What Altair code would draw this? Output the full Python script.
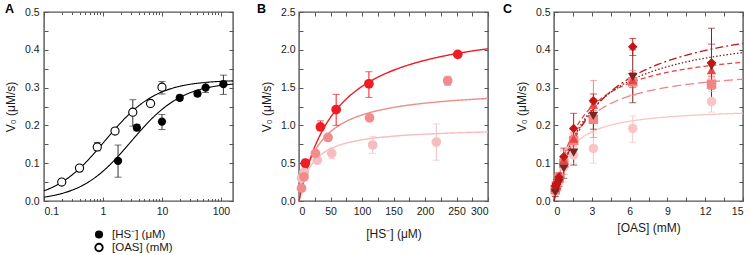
import altair as alt
import numpy as np
import pandas as pd

FONT = "Liberation Sans"
FRAME = "#555555"
INK = "#1a1a1a"
W, H = 189, 189

# ---------------- Panel A: V0 vs substrate concentration (log axis) ----------------
hs_conc = [1.8, 3.75, 10, 20, 40, 55, 110]
hs_rate = [0.106, 0.194, 0.210, 0.273, 0.284, 0.300, 0.309]
hs_lo = [0.063, 0.186, 0.189, 0.266, 0.277, 0.287, 0.282]
hs_hi = [0.148, 0.202, 0.229, 0.280, 0.291, 0.313, 0.333]

oas_conc = [0.2, 0.4, 0.8, 1.6, 3.2, 6.4, 10]
oas_rate = [0.050, 0.087, 0.143, 0.185, 0.235, 0.258, 0.301]
oas_lo = [0.046, 0.082, 0.133, 0.180, 0.198, 0.252, 0.283]
oas_hi = [0.054, 0.092, 0.155, 0.190, 0.268, 0.264, 0.316]

# Michaelis-Menten fit parameters (Vmax, Km)
a_fit = {"HS": (0.315, 3.0), "OAS": (0.320, 1.09)}

# ---------------- Panel B: V0 vs [HS-] at three OAS levels ----------------
b_series = ["lo", "mid", "hi"]
b_colors = ["#f6bdc0", "#f28b8b", "#ee1d23"]
b_x = {"lo": [4, 8, 29, 52, 117, 218],
       "mid": [4, 8, 26, 46, 112, 236],
       "hi": [10, 34, 59, 111, 252]}
b_v = {"lo": [0.30, 0.38, 0.54, 0.63, 0.74, 0.78],
       "mid": [0.17, 0.32, 0.63, 0.84, 1.10, 1.59],
       "hi": [0.50, 0.98, 1.21, 1.55, 1.94]}
b_lo = {"lo": [0.27, 0.35, 0.49, 0.56, 0.63, 0.54],
        "mid": [0.14, 0.29, 0.60, 0.81, 1.07, 1.53],
        "hi": [0.45, 0.93, 1.00, 1.37, 1.91]}
b_hi = {"lo": [0.33, 0.41, 0.59, 0.70, 0.85, 1.02],
        "mid": [0.20, 0.35, 0.66, 0.87, 1.13, 1.65],
        "hi": [0.55, 1.06, 1.41, 1.71, 1.97]}
b_fit = {"lo": (0.975, 20.5), "mid": (1.50, 31.8), "hi": (2.41, 59.0)}

# ---------------- Panel C: V0 vs [OAS] at five HS- levels ----------------
c_series = ["s1", "s2", "s3", "s4", "s5"]
c_colors = ["#f8bcbc", "#f38686", "#e8353a", "#6e0b0b", "#c80d0d"]
c_curve_colors = ["#fbc4c4", "#f08585", "#e84545", "#7a2525", "#c41515"]
c_shapes = ["circle", "square", "triangle-up", "triangle-down", "diamond"]
c_dashes = [[1, 0], [9, 4], [5, 3], [1.5, 2], [8, 3, 2, 3]]
c_x = [0.1, 0.2, 0.39, 0.78, 1.56, 3.125, 6.25, 12.5]
c_v = {"s1": [0.025, 0.032, 0.050, 0.090, 0.122, 0.139, 0.192, 0.263],
       "s2": [0.030, 0.040, 0.060, 0.100, 0.160, 0.216, 0.315, 0.309],
       "s3": [0.035, 0.042, 0.065, 0.108, 0.165, 0.255, 0.320, 0.346],
       "s4": [0.022, 0.035, 0.048, 0.086, 0.128, 0.225, 0.328, 0.357],
       "s5": [0.040, 0.046, 0.063, 0.117, 0.192, 0.265, 0.408, 0.366]}
c_lo = {"s1": [0.015, 0.022, 0.040, 0.050, 0.100, 0.100, 0.155, 0.235],
        "s2": [0.020, 0.030, 0.050, 0.070, 0.145, 0.168, 0.280, 0.295],
        "s3": [0.025, 0.032, 0.055, 0.095, 0.150, 0.240, 0.300, 0.330],
        "s4": [0.012, 0.025, 0.038, 0.060, 0.095, 0.190, 0.260, 0.262],
        "s5": [0.030, 0.036, 0.053, 0.095, 0.170, 0.247, 0.385, 0.340]}
c_hi = {"s1": [0.035, 0.042, 0.060, 0.130, 0.140, 0.180, 0.225, 0.290],
        "s2": [0.040, 0.050, 0.070, 0.135, 0.175, 0.319, 0.345, 0.325],
        "s3": [0.045, 0.052, 0.075, 0.120, 0.180, 0.270, 0.340, 0.360],
        "s4": [0.032, 0.045, 0.058, 0.110, 0.160, 0.260, 0.400, 0.457],
        "s5": [0.050, 0.056, 0.073, 0.140, 0.232, 0.283, 0.430, 0.415]}
c_fit = {"s1": (0.249, 1.08), "s2": (0.361, 1.8), "s3": (0.416, 2.0),
         "s4": (0.466, 2.8), "s5": (0.514, 3.49)}

Y_TITLE = "V\u2080 (\u03bcM/s)"


def mm(vmax, km, xs):
    xs = np.asarray(xs, dtype=float)
    return vmax * xs / (km + xs)


def tick_axis(orient, values, size=4):
    # tick-only axis; negative length points the ticks into the plot frame
    return alt.Axis(orient=orient, values=values, labels=False, domain=False, grid=False,
                    title=None, tickSize={"expr": f"-{size}"}, tickColor=FRAME, tickWidth=1)


def label_axis(orient, values, fmt, title=None, title_pad=5, label_pad=4):
    kw = dict(orient=orient, values=values, format=fmt, ticks=False, domain=False,
              grid=False, labelFont=FONT, labelFontSize=10.5, labelColor=INK,
              labelPadding=label_pad)
    if title is None:
        kw["title"] = None
    else:
        kw.update(title=title, titleFont=FONT, titleFontSize=12, titleFontWeight="normal",
                  titleColor=INK, titlePadding=title_pad)
    return alt.Axis(**kw)


def letter(t, dx, dy=-9):
    return alt.Chart(pd.DataFrame({"t": [t]})).mark_text(
        align="left", baseline="top", font=FONT, fontSize=12.5, fontWeight="bold", color="black"
    ).encode(text="t:N", x=alt.value(dx), y=alt.value(dy))


Y05_TICKS = [0, 0.05, 0.1, 0.15, 0.2, 0.25, 0.3, 0.35, 0.4, 0.45, 0.5]
Y05_LABELS = [0, 0.1, 0.2, 0.3, 0.4, 0.5]

# ---------------- build panel A ----------------
a_pts = pd.concat([
    pd.DataFrame({"series": "HS", "x": hs_conc, "v": hs_rate, "lo": hs_lo, "hi": hs_hi}),
    pd.DataFrame({"series": "OAS", "x": oas_conc, "v": oas_rate, "lo": oas_lo, "hi": oas_hi}),
], ignore_index=True)
a_grid = np.geomspace(0.1, 160, 260)
a_curve = pd.concat([pd.DataFrame({"series": s, "x": a_grid, "v": mm(vm, km, a_grid)})
                     for s, (vm, km) in a_fit.items()], ignore_index=True)

A_MAJOR = [0.1, 1, 10, 100]
A_MINOR = [m * d for d in (0.1, 1, 10) for m in range(2, 10)]
xa = alt.Scale(type="log", domain=[0.1, 160])
ya = alt.Scale(domain=[0, 0.5])

a_lines = alt.Chart(a_curve).mark_line(color="black", strokeWidth=1.1).encode(
    x=alt.X("x:Q", scale=xa, axis=tick_axis("top", A_MAJOR)),
    y=alt.Y("v:Q", scale=ya, axis=tick_axis("right", Y05_TICKS)),
    detail="series:N")
a_err = alt.Chart(a_pts).mark_rule(color="#333333", strokeWidth=1).encode(
    x=alt.X("x:Q", scale=xa, axis=label_axis("bottom", A_MAJOR, "~g", label_pad=5)),
    y=alt.Y("lo:Q", scale=ya, axis=label_axis("left", Y05_LABELS, ".1f", Y_TITLE, 7, 5)),
    y2="hi:Q")
a_cap_lo = alt.Chart(a_pts).mark_tick(orient="horizontal", size=7, thickness=1, color="#333333").encode(
    x=alt.X("x:Q", scale=xa, axis=tick_axis("bottom", A_MAJOR)),
    y=alt.Y("lo:Q", scale=ya, axis=tick_axis("left", Y05_TICKS)))
a_cap_hi = alt.Chart(a_pts).mark_tick(orient="horizontal", size=7, thickness=1, color="#333333").encode(
    x=alt.X("x:Q", scale=xa, axis=tick_axis("top", A_MINOR, 2.5)),
    y=alt.Y("hi:Q", scale=ya, axis=None))
a_filled = alt.Chart(a_pts).transform_filter("datum.series == 'HS'").mark_point(
    shape="circle", filled=True, size=68, color="black", opacity=1).encode(
    x=alt.X("x:Q", scale=xa, axis=tick_axis("bottom", A_MINOR, 2.5)),
    y=alt.Y("v:Q", scale=ya, axis=None))
a_open = alt.Chart(a_pts).transform_filter("datum.series == 'OAS'").mark_point(
    shape="circle", filled=True, size=66, fill="white", stroke="black", strokeWidth=1.1, opacity=1).encode(
    x=alt.X("x:Q", scale=xa, axis=None),
    y=alt.Y("v:Q", scale=ya, axis=None))

leg_one = pd.DataFrame({"label": ["[HS\u207b] (\u03bcM)"]})
leg_two = pd.DataFrame({"label": ["[OAS] (mM)"]})
a_leg = alt.layer(
    alt.Chart(leg_one).mark_point(shape="circle", filled=True, size=66, color="black", opacity=1)
    .encode(x=alt.value(55), y=alt.value(222.5)),
    alt.Chart(leg_two).mark_point(shape="circle", filled=True, size=56, fill="white",
                                  stroke="black", strokeWidth=1.8, opacity=1)
    .encode(x=alt.value(55), y=alt.value(235.5)),
    alt.Chart(leg_one).mark_text(align="left", baseline="middle", font=FONT, fontSize=11.5, color=INK)
    .encode(text="label:N", x=alt.value(68), y=alt.value(222.5)),
    alt.Chart(leg_two).mark_text(align="left", baseline="middle", font=FONT, fontSize=11.5, color=INK)
    .encode(text="label:N", x=alt.value(68), y=alt.value(235.5)),
)

panel_a = alt.layer(a_lines, a_err, a_cap_lo, a_cap_hi, a_filled, a_open, a_leg, letter("A", -39)) \
    .resolve_axis(x="independent", y="independent").properties(width=W, height=H)

# ---------------- build panel B ----------------
b_pts = pd.concat([pd.DataFrame({"series": s, "x": b_x[s], "v": b_v[s], "lo": b_lo[s], "hi": b_hi[s]})
                   for s in b_series], ignore_index=True)
b_grid = np.linspace(0, 300, 301)
b_curve = pd.concat([pd.DataFrame({"series": s, "x": b_grid, "v": mm(*b_fit[s], b_grid)})
                     for s in b_series], ignore_index=True)

xb = alt.Scale(domain=[0, 300])
yb = alt.Scale(domain=[0, 2.5])
cb = alt.Color("series:N", scale=alt.Scale(domain=b_series, range=b_colors), legend=None)
B_X_TICKS = list(range(0, 301, 25))
B_X_LABELS = list(range(0, 301, 50))
B_Y_TICKS = [0, 0.25, 0.5, 0.75, 1.0, 1.25, 1.5, 1.75, 2.0, 2.25, 2.5]
B_Y_LABELS = [0, 0.5, 1.0, 1.5, 2.0, 2.5]

b_lines = alt.Chart(b_curve).mark_line(strokeWidth=1.4).encode(
    x=alt.X("x:Q", scale=xb, axis=tick_axis("top", B_X_TICKS)),
    y=alt.Y("v:Q", scale=yb, axis=tick_axis("right", B_Y_TICKS)),
    color=cb, detail="series:N")
b_err = alt.Chart(b_pts).mark_rule(strokeWidth=1).encode(
    x=alt.X("x:Q", scale=xb, axis=label_axis("bottom", B_X_LABELS, "d", "[HS\u207b] (\u03bcM)", 12, 5)),
    y=alt.Y("lo:Q", scale=yb, axis=label_axis("left", B_Y_LABELS, ".1f", Y_TITLE, 7, 4)),
    y2="hi:Q", color=cb)
b_cap_lo = alt.Chart(b_pts).mark_tick(orient="horizontal", size=7, thickness=1).encode(
    x=alt.X("x:Q", scale=xb, axis=tick_axis("bottom", B_X_TICKS)),
    y=alt.Y("lo:Q", scale=yb, axis=tick_axis("left", B_Y_TICKS)), color=cb)
b_cap_hi = alt.Chart(b_pts).mark_tick(orient="horizontal", size=7, thickness=1).encode(
    x=alt.X("x:Q", scale=xb, axis=None), y=alt.Y("hi:Q", scale=yb, axis=None), color=cb)
b_dots = alt.Chart(b_pts).mark_circle(size=95, opacity=1).encode(
    x=alt.X("x:Q", scale=xb, axis=None), y=alt.Y("v:Q", scale=yb, axis=None), color=cb)

panel_b = alt.layer(b_lines, b_err, b_cap_lo, b_cap_hi, b_dots, letter("B", -42)) \
    .resolve_axis(x="independent", y="independent").properties(width=W, height=H)

# ---------------- build panel C ----------------
c_pts = pd.concat([pd.DataFrame({"series": s, "x": c_x, "v": c_v[s], "lo": c_lo[s], "hi": c_hi[s]})
                   for s in c_series], ignore_index=True)
c_grid = np.linspace(0, 15, 301)
c_curve = pd.concat([pd.DataFrame({"series": s, "x": c_grid, "v": mm(*c_fit[s], c_grid)})
                     for s in c_series], ignore_index=True)

xc = alt.Scale(domain=[0, 15])
yc = alt.Scale(domain=[0, 0.5])
cc = alt.Color("series:N", scale=alt.Scale(domain=c_series, range=c_colors), legend=None)
cc_line = alt.Color("series:N", scale=alt.Scale(domain=c_series, range=c_curve_colors), legend=None)
C_X_TICKS = [0, 1.5, 3, 4.5, 6, 7.5, 9, 10.5, 12, 13.5, 15]
C_X_LABELS = [0, 3, 6, 9, 12, 15]

c_lines = alt.Chart(c_curve).mark_line(strokeWidth=1.3).encode(
    x=alt.X("x:Q", scale=xc, axis=tick_axis("top", C_X_TICKS)),
    y=alt.Y("v:Q", scale=yc, axis=tick_axis("right", Y05_TICKS)),
    color=cc_line,
    strokeDash=alt.StrokeDash("series:N", scale=alt.Scale(domain=c_series, range=c_dashes), legend=None),
    detail="series:N")
c_err = alt.Chart(c_pts).mark_rule(strokeWidth=1).encode(
    x=alt.X("x:Q", scale=xc, axis=label_axis("bottom", C_X_LABELS, "d", "[OAS] (mM)", 6, 5)),
    y=alt.Y("lo:Q", scale=yc, axis=label_axis("left", Y05_LABELS, ".1f", Y_TITLE, 7, 4)),
    y2="hi:Q", color=cc)
c_cap_lo = alt.Chart(c_pts).mark_tick(orient="horizontal", size=7, thickness=1).encode(
    x=alt.X("x:Q", scale=xc, axis=tick_axis("bottom", C_X_TICKS)),
    y=alt.Y("lo:Q", scale=yc, axis=tick_axis("left", Y05_TICKS)), color=cc)
c_cap_hi = alt.Chart(c_pts).mark_tick(orient="horizontal", size=7, thickness=1).encode(
    x=alt.X("x:Q", scale=xc, axis=None), y=alt.Y("hi:Q", scale=yc, axis=None), color=cc)
c_marks = alt.Chart(c_pts).mark_point(filled=True, size=90, opacity=1).encode(
    x=alt.X("x:Q", scale=xc, axis=None), y=alt.Y("v:Q", scale=yc, axis=None), color=cc,
    shape=alt.Shape("series:N", scale=alt.Scale(domain=c_series, range=c_shapes), legend=None))

panel_c = alt.layer(c_lines, c_err, c_cap_lo, c_cap_hi, c_marks, letter("C", -51)) \
    .resolve_axis(x="independent", y="independent").properties(width=W, height=H)

chart = alt.hconcat(panel_a, panel_b, panel_c, spacing=66, bounds="flush") \
    .resolve_scale(x="independent", y="independent", color="independent",
                   shape="independent", strokeDash="independent") \
    .properties(padding={"left": 3, "top": 2, "right": 0, "bottom": 0}, background="white") \
    .configure_view(stroke=FRAME, strokeWidth=1.4)

chart.save("out.html", embed_options={"renderer": "svg", "actions": False})
